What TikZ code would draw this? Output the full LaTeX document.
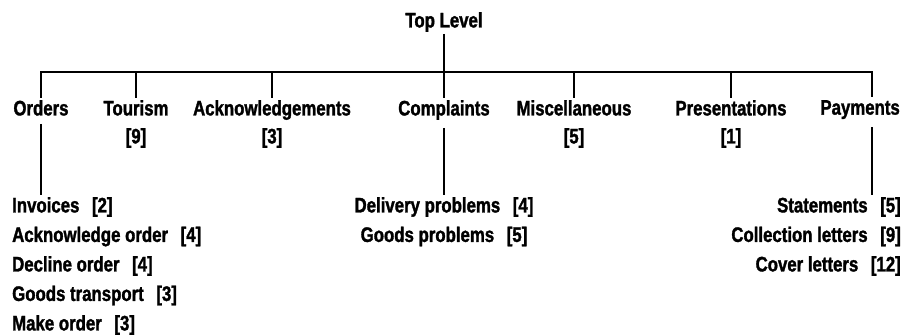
\documentclass[tikz,border=0pt]{standalone}
\usepackage{fontspec}
\setmainfont{Liberation Sans}[FakeStretch=0.8,BoldFeatures={FakeBold=1.5}]
\newcommand{\cnt}[1]{\hskip.6em[#1]}
\begin{document}
\begin{tikzpicture}[x=1pt,y=-1pt]
      \tikzstyle{entry} = [font=\bfseries\fontsize{21}{28}\selectfont,inner sep=2pt];
      \tikzstyle{topic} = [entry,align=center,anchor=north];
      \tikzstyle{sub} = [entry,font=\bfseries\fontsize{21}{29.5}\selectfont,anchor=north];
      \tikzstyle{branch} = [line width=2.5pt];
      \useasboundingbox (0,0) rectangle (906,336);
      \node [entry] (top) at (444,22) {Top Level};
      \coordinate (bar) at (444,72);
      \node [topic] (orders) at (41,98) {Orders};
      \node [topic] (tourism) at (136,98) {Tourism\\{[9]}};
      \node [topic] (ack) at (272,98) {Acknowledgements\\{[3]}};
      \node [topic] (compl) at (444,98) {Complaints};
      \node [topic] (misc) at (574,98) {Miscellaneous\\{[5]}};
      \node [topic] (pres) at (731,98) {Presentations\\{[1]}};
      \node [topic,anchor=north east] (pay) at (902,98) {Payments};
      \coordinate (paystem) at (872,97);
      \node [sub,anchor=north west,align=left] (orderlist) at (10,195)
        {Invoices\cnt{2}\\Acknowledge order\cnt{4}\\Decline order\cnt{4}\\Goods transport\cnt{3}\\Make order\cnt{3}};
      \node [sub,align=center] (compllist) at (444,195)
        {Delivery problems\cnt{4}\\Goods problems\cnt{5}};
      \node [sub,anchor=north east,align=right] (paylist) at (903,195)
        {Statements\cnt{5}\\Collection letters\cnt{9}\\Cover letters\cnt{12}};
      \draw [branch] (top) -- (compl);
      \draw [branch] (orders.north) |- (bar) -| (paystem);
      \foreach \n in {tourism,ack,misc,pres}
        \draw [branch] (\n.north) -- (\n.north |- bar);
      \draw [branch,shorten <=6pt] (orders.south) -- (orders.south |- orderlist.north);
      \draw [branch,shorten <=6pt] (compl.south) -- (compllist.north);
      \draw [branch] (paystem |- pay.south) ++(0,6) -- (paystem |- paylist.north);
    \end{tikzpicture}
\end{document}
